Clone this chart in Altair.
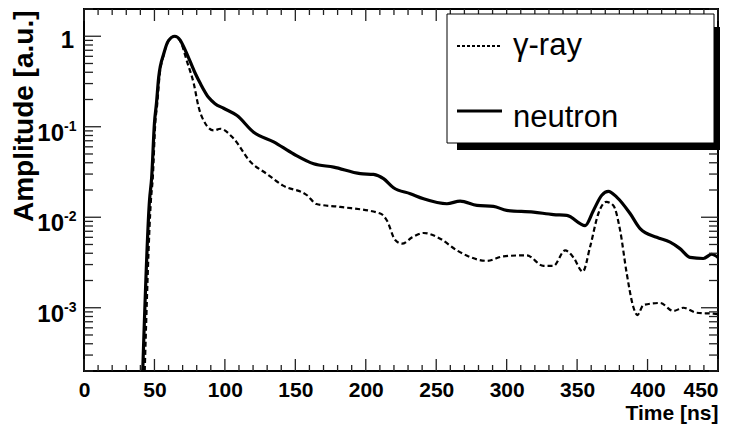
import altair as alt
import pandas as pd

# ---------------- data ----------------
t_neutron = [41.7, 46.5, 48.0, 50.0, 51.4, 53.0, 56.6, 60.1, 64.4, 68.4, 70.8, 75.5,
             79.1, 82.6, 88.5, 93.0, 99.1, 108.6, 120.4, 134.6, 148.8, 163.0, 177.2,
             196.1, 205.5, 212.6, 219.7, 231.6, 241.0, 257.6, 267.0, 278.9, 290.6,
             300.0, 319.0, 333.2, 342.7, 355.7, 361.6, 367.5, 372.2, 378.1, 387.6,
             394.7, 406.5, 416.0, 423.0, 430.1, 439.6, 445.5, 450.0]
a_neutron = [0.0002, 0.0154, 0.027, 0.11, 0.18, 0.35, 0.64, 0.90, 1.0, 0.90, 0.76, 0.52,
             0.385, 0.30, 0.21, 0.18, 0.16, 0.133, 0.087, 0.068, 0.050, 0.039, 0.0358,
             0.0303, 0.0297, 0.0267, 0.0212, 0.0182, 0.016, 0.0141, 0.0151, 0.0135, 0.0132,
             0.0119, 0.0114, 0.0107, 0.0105, 0.0081, 0.0119, 0.0175, 0.0193, 0.0167, 0.011,
             0.0075, 0.0060, 0.0053, 0.0045, 0.0036, 0.0035, 0.0039, 0.0036]

t_gamma = [43.1, 47.5, 48.8, 50.6, 52.0, 53.5, 56.8, 60.1, 64.4, 68.4, 73.2, 77.9, 81.4,
           86.2, 92.1, 96.8, 106.2, 118.1, 129.9, 141.0, 158.3, 165.0, 181.9, 210.3,
           215.0, 220.9, 225.7, 233.0, 241.0, 252.8, 264.7, 286.0, 297.7, 314.3, 326.1,
           333.2, 341.5, 347.4, 354.0, 359.2, 365.1, 370.6, 375.7, 380.5, 385.2, 389.9,
           392.8, 397.0, 408.9, 418.3, 425.4, 434.9, 446.7, 450.0]
a_gamma = [0.0002, 0.0154, 0.027, 0.11, 0.18, 0.35, 0.64, 0.90, 1.0, 0.88, 0.52, 0.30, 0.164,
           0.108, 0.091, 0.095, 0.074, 0.041, 0.030, 0.0225, 0.0175, 0.0140, 0.0130, 0.011,
           0.0092, 0.0056, 0.0051, 0.0060, 0.0067, 0.0058, 0.0043, 0.0033, 0.0037, 0.0038,
           0.0029, 0.0029, 0.0043, 0.0036, 0.0025, 0.0047, 0.011, 0.0148, 0.0135, 0.0072,
           0.0024, 0.00102, 0.00083, 0.00107, 0.00113, 0.00092, 0.0010, 0.00088, 0.00086,
           0.00085]

series_names = ["γ-ray", "neutron"]

x_major = [0, 50, 100, 150, 200, 250, 300, 350, 400, 450]
x_minor = [v for v in range(10, 450, 10) if v % 50 != 0]
y_major = [1e-3, 1e-2, 1e-1, 1.0]
y_minor = [m * 10.0 ** k for k in range(-4, 1) for m in range(2, 10) if 2e-4 <= m * 10.0 ** k <= 2]
y_label_exp = ["-3", "-2", "-1"]
y_label_exp_vals = [1e-3, 1e-2, 1e-1]
y_label_one = [1.0]

X_DOMAIN = [0, 450]
Y_DOMAIN = [2e-4, 2]
W, H = 634, 362

SANS = "Liberation Sans, Arial, sans-serif"

df_n = pd.DataFrame({"t": t_neutron, "amp": a_neutron})
df_g = pd.DataFrame({"t": t_gamma, "amp": a_gamma})

xs = alt.Scale(domain=X_DOMAIN, nice=False, zero=False)
ys = alt.Scale(type="log", domain=Y_DOMAIN, nice=False)

x_axis = alt.Axis(
    values=x_major, ticks=False, domain=False, grid=False,
    labelFont=SANS, labelFontWeight="bold", labelFontSize=21, labelColor="black",
    labelPadding=8,
    labelAlign={"condition": {"test": "datum.value == 450", "value": "right"}, "value": "center"},
    labelFlush=False,
    title="Time [ns]", titleFont=SANS, titleFontWeight="bold", titleFontSize=21,
    titleColor="black", titleAnchor="end", titleAlign="right", titleX=W, titleY=48,
    titleBaseline="alphabetic",
)
y_axis = alt.Axis(
    labels=False, ticks=False, domain=False, grid=False,
    title="Amplitude [a.u.]", titleFont=SANS, titleFontWeight="bold", titleFontSize=28,
    titleColor="black", titleAngle=270, titleAnchor="end", titleAlign="right",
    titleBaseline="alphabetic", titleX=-52, titleY=1,
)

gamma = alt.Chart(df_g).mark_line(
    color="black", strokeWidth=2.2, strokeDash=[5, 3], interpolate="monotone", clip=True
).encode(x=alt.X("t:Q", scale=xs, axis=x_axis), y=alt.Y("amp:Q", scale=ys, axis=y_axis))

neutron = alt.Chart(df_n).mark_line(
    color="black", strokeWidth=3.2, interpolate="monotone", clip=True
).encode(x=alt.X("t:Q", scale=xs), y=alt.Y("amp:Q", scale=ys))

tick_style = dict(color="#222222", strokeWidth=1.3)

def xticks(vals, length):
    d = pd.DataFrame({"v": vals})
    bottom = alt.Chart(d).mark_rule(**tick_style).encode(
        x=alt.X("v:Q", scale=xs), y=alt.value(H), y2=alt.value(H - length))
    top = alt.Chart(d).mark_rule(**tick_style).encode(
        x=alt.X("v:Q", scale=xs), y=alt.value(0), y2=alt.value(length))
    return [bottom, top]

def yticks(vals, length):
    d = pd.DataFrame({"v": vals})
    left = alt.Chart(d).mark_rule(**tick_style).encode(
        y=alt.Y("v:Q", scale=ys), x=alt.value(0), x2=alt.value(length))
    right = alt.Chart(d).mark_rule(**tick_style).encode(
        y=alt.Y("v:Q", scale=ys), x=alt.value(W), x2=alt.value(W - length))
    return [left, right]

ticks = xticks(x_major, 12) + xticks(x_minor, 6) + yticks(y_major, 17) + yticks(y_minor, 9)

# y tick labels (ROOT style 10^n)
d_exp = pd.DataFrame({"v": y_label_exp_vals, "e": y_label_exp})
lab_base = alt.Chart(d_exp).mark_text(
    text="10", font=SANS, fontWeight="bold", fontSize=24, align="right",
    baseline="middle", dy=7, color="black"
).encode(y=alt.Y("v:Q", scale=ys), x=alt.value(-20))
lab_exp = alt.Chart(d_exp).mark_text(
    font=SANS, fontWeight="bold", fontSize=14, align="left",
    baseline="middle", dy=0, color="black"
).encode(y=alt.Y("v:Q", scale=ys), x=alt.value(-20), text="e:N")
lab_one = alt.Chart(pd.DataFrame({"v": y_label_one})).mark_text(
    text="1", font=SANS, fontWeight="bold", fontSize=24, align="right",
    baseline="middle", dy=5, color="black"
).encode(y=alt.Y("v:Q", scale=ys), x=alt.value(-10))

# legend box with ROOT shadow
shadow = alt.Chart(pd.DataFrame({"k": [0]})).mark_rect(color="black").encode(
    x=alt.value(373), x2=alt.value(636), y=alt.value(18), y2=alt.value(141))
box = alt.Chart(pd.DataFrame({"k": [0]})).mark_rect(
    fill="white", stroke="black", strokeWidth=1).encode(
    x=alt.value(363), x2=alt.value(630), y=alt.value(5), y2=alt.value(134))
leg_g = alt.Chart(pd.DataFrame({"k": [0]})).mark_rule(
    color="black", strokeWidth=1.8, strokeDash=[3, 2]).encode(
    x=alt.value(373), x2=alt.value(418), y=alt.value(37))
leg_n = alt.Chart(pd.DataFrame({"k": [0]})).mark_rule(
    color="black", strokeWidth=3).encode(
    x=alt.value(373), x2=alt.value(418), y=alt.value(102))
leg_txt_g = alt.Chart(pd.DataFrame({"s": [series_names[0]]})).mark_text(
    font=SANS, fontSize=31, align="left", baseline="alphabetic", color="black").encode(
    x=alt.value(429), y=alt.value(46), text="s:N")
leg_txt_n = alt.Chart(pd.DataFrame({"s": [series_names[1]]})).mark_text(
    font=SANS, fontSize=31, align="left", baseline="alphabetic", color="black").encode(
    x=alt.value(429), y=alt.value(118), text="s:N")

chart = alt.layer(
    gamma, neutron, *ticks, lab_base, lab_exp, lab_one,
    shadow, box, leg_g, leg_n, leg_txt_g, leg_txt_n
).properties(
    width=W, height=H,
    autosize=alt.AutoSizeParams(type="none"),
    padding={"left": 76, "top": 1, "right": 11, "bottom": 53},
    background="white",
).configure_view(stroke="black", strokeWidth=2)

chart.save("out.html", embed_options={"renderer": "svg", "actions": False})
